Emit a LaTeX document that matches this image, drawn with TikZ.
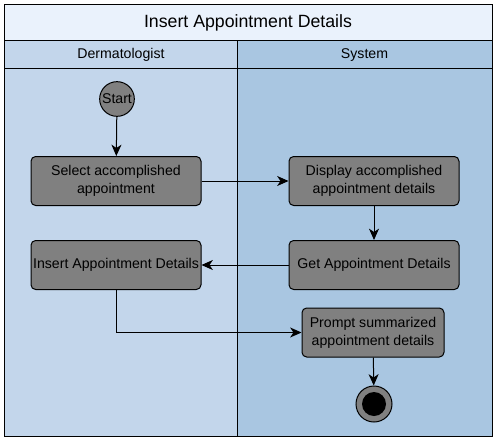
\documentclass[tikz,border=0pt]{standalone}
\usepackage{fontspec}
\setmainfont{Liberation Sans}
\usetikzlibrary{arrows.meta,positioning}
\definecolor{titlefill}{HTML}{EAF2FC}
\definecolor{laneL}{HTML}{C3D6EB}
\definecolor{laneR}{HTML}{A9C6E1}
\definecolor{boxfill}{HTML}{808080}
\tikzset{
  act/.style={draw=black, fill=boxfill, rounded corners=3.5pt, line width=0.75pt, minimum width=127.5pt, minimum height=36.75pt, align=center, font=\fontsize{10.6}{13.5}\selectfont, inner sep=0.5pt},
  flow/.style={line width=0.75pt, -{Stealth[length=8.5pt,width=7.5pt,inset=2.5pt]}},
  frame/.style={draw=black, line width=0.75pt}
}
\begin{document}
\begin{tikzpicture}[x=0.75pt,y=-0.75pt]
\useasboundingbox (0,0) rectangle (497,440);
% lanes
\fill[titlefill] (4,4) rectangle (492,40);
\fill[laneL] (4,40) rectangle (237,436);
\fill[laneR] (237,40) rectangle (492,436);
\draw[frame] (4,4) rectangle (492,436);
\draw[frame] (4,40) -- (492,40);
\draw[frame] (4,68) -- (492,68);
\draw[frame] (237,40) -- (237,436);
\node[font=\fontsize{13.3}{15}\selectfont] (title) at (248,22.5) {Insert Appointment Details};
\node[font=\fontsize{10.6}{12}\selectfont] (laneA) at (121,55) {Dermatologist};
\node[font=\fontsize{10.6}{12}\selectfont] (laneB) at (364.5,55) {System};
% nodes
\node[circle, draw=black, fill=boxfill, line width=0.75pt, minimum size=26pt, inner sep=0pt, font=\fontsize{10.6}{12}\selectfont] (start) at (117,99) {Start};
\node[act] (select) at (116,181) {Select accomplished\\appointment};
\node[act] (display) at (374,181) {Display accomplished\\appointment details};
\node[act] (insert) at (116,265) {Insert Appointment Details};
\node[act] (get) at (374,265) {Get Appointment Details};
\node[act, minimum width=106.5pt] (prompt) at (373,332.5) {Prompt summarized\\appointment details};
\node[circle, draw=black, fill=boxfill, line width=0.75pt, minimum size=27pt, inner sep=0pt] (end) at (374,404) {};
\node[circle, fill=black, minimum size=18pt, inner sep=0pt] (endin) at (374,404) {};
% connectors
\draw[flow] (start) -- (select);
\draw[flow] (select) -- (display);
\draw[flow] (display) -- (get);
\draw[flow] (get) -- (insert);
\draw[flow] (insert.south) |- (prompt.west);
\draw[flow] (prompt) -- (end);
\end{tikzpicture}
\end{document}
